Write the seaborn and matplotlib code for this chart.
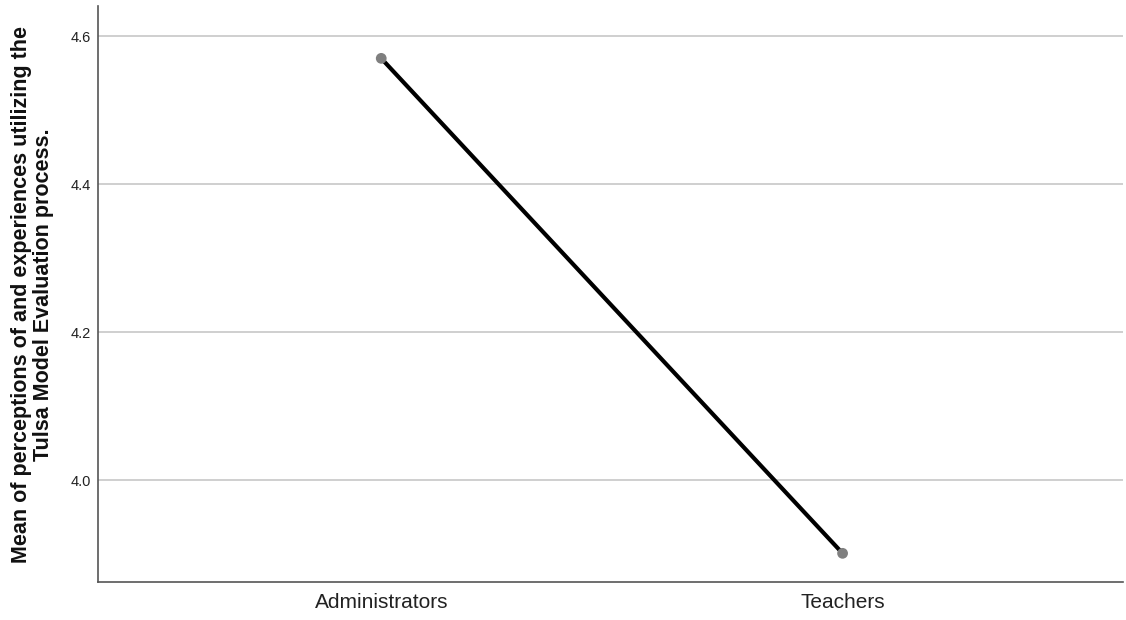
import matplotlib
matplotlib.use("Agg")
import matplotlib.pyplot as plt
import pandas as pd
import seaborn as sns

groups = ["Administrators", "Teachers"]
means = [4.570, 3.901]

df = pd.DataFrame({"group": groups, "mean": means})

sns.set_style("white")
plt.rcParams["font.family"] = ["Liberation Sans", "DejaVu Sans"]

fig = plt.figure(figsize=(11.26, 6.2), dpi=100)
ax = fig.add_axes([0.087, 0.061, 0.910, 0.929])

sns.lineplot(data=df, x="group", y="mean", color="black", linewidth=3, ax=ax, zorder=3)
sns.scatterplot(data=df, x="group", y="mean", color="#7f7f7f", s=60,
                edgecolor="none", ax=ax, zorder=4)

ax.set_xlim(-0.614, 1.607)
ax.set_ylim(3.862, 4.6405)
ax.set_yticks([4.0, 4.2, 4.4, 4.6])
ax.set_yticklabels(["4.0", "4.2", "4.4", "4.6"], fontsize=10.5, color="#222222")
ax.tick_params(axis="x", labelsize=15, colors="#222222", length=0, pad=8)
ax.tick_params(axis="y", length=0, pad=5)
ax.yaxis.grid(True, color="#cccccc", linewidth=1.3)
ax.set_axisbelow(True)

for side in ["top", "right"]:
    ax.spines[side].set_visible(False)
for side in ["left", "bottom"]:
    ax.spines[side].set_color("#555555")
    ax.spines[side].set_linewidth(1.2)

ax.set_xlabel("")
ax.set_ylabel("Mean of perceptions of and experiences utilizing the\nTulsa Model Evaluation process.",
              fontsize=15.5, fontweight="bold", color="#111111", labelpad=12,
              linespacing=1.05)

fig.savefig("out.png", dpi=100, facecolor="white")
